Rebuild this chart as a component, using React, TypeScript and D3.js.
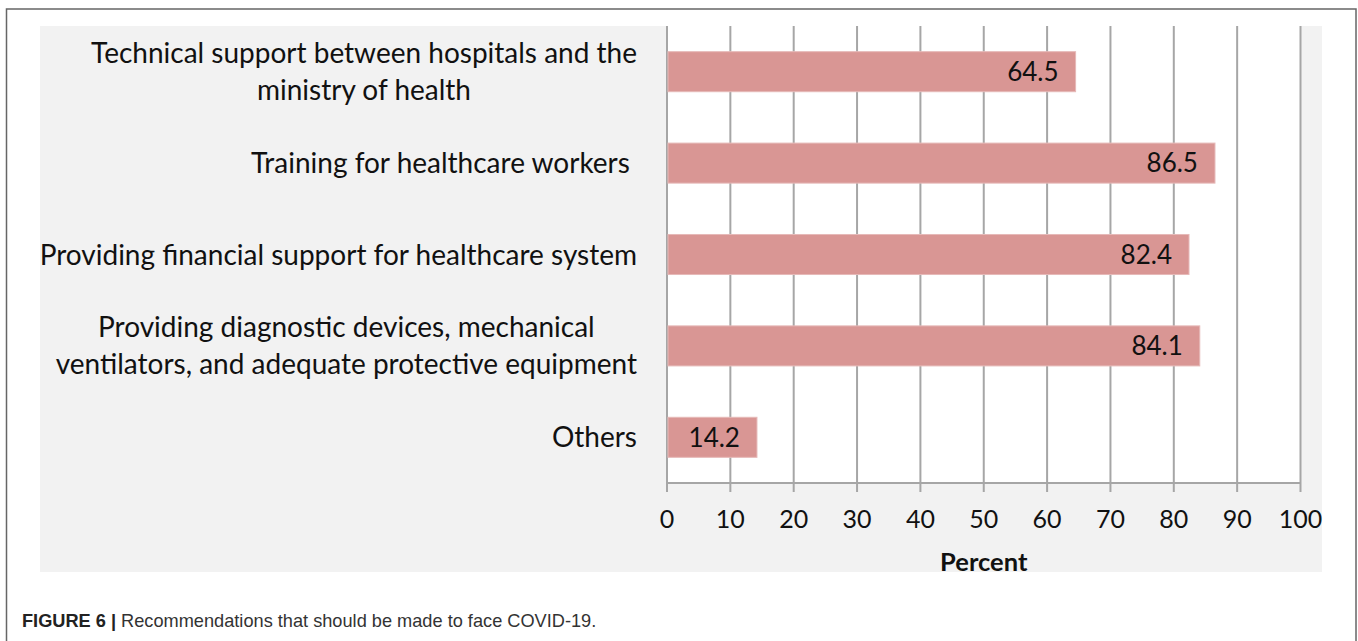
import React, { useEffect, useRef } from "react";
import * as d3 from "d3";

const categories = [
  "Technical support between hospitals and the\nministry of health",
  "Training for healthcare workers ",
  "Providing financial support for healthcare system",
  "Providing diagnostic devices, mechanical\nventilators, and adequate protective equipment",
  "Others",
];
const values = [64.5, 86.5, 82.4, 84.1, 14.2];
const xTicks = [0, 10, 20, 30, 40, 50, 60, 70, 80, 90, 100];
const xAxisTitle = "Percent";
const captionBold = "FIGURE 6 |";
const captionText = " Recommendations that should be made to face COVID-19.";

const W = 1358;
const H = 641;
const FONT = "Lato, 'Open Sans', sans-serif";

export default function App() {
  const ref = useRef<SVGSVGElement | null>(null);

  useEffect(() => {
    const svg = d3.select(ref.current);
    svg.selectAll("*").remove();

    // outer frame
    svg.append("rect")
      .attr("x", 6.5).attr("y", 9).attr("width", 1349.5).attr("height", 700)
      .attr("fill", "#ffffff").attr("stroke", "#666666").attr("stroke-width", 1.5);

    // gray chart panel
    svg.append("rect")
      .attr("x", 40).attr("y", 26).attr("width", 1282).attr("height", 546)
      .attr("fill", "#f2f2f2");

    const x = d3.scaleLinear().domain([0, 100]).range([667, 1300.5]);
    const y = d3.scaleBand<string>().domain(categories).range([26, 483])
      .paddingInner(0.562).paddingOuter(0.281);

    // plot area
    svg.append("rect")
      .attr("x", x(0)).attr("y", 26).attr("width", x(100) - x(0)).attr("height", 483 - 26)
      .attr("fill", "#ffffff");

    // gridlines
    svg.append("g").selectAll("line").data(xTicks).join("line")
      .attr("x1", d => x(d)).attr("x2", d => x(d))
      .attr("y1", 26).attr("y2", 492)
      .attr("stroke", "#a6a6a6").attr("stroke-width", 2);

    // axis line
    svg.append("line")
      .attr("x1", x(0)).attr("x2", x(100)).attr("y1", 483).attr("y2", 483)
      .attr("stroke", "#a6a6a6").attr("stroke-width", 2);

    // bars
    svg.append("g").selectAll("rect").data(values).join("rect")
      .attr("x", x(0) + 1)
      .attr("y", (d, i) => y(categories[i])!)
      .attr("width", d => x(d) - x(0) - 1)
      .attr("height", y.bandwidth())
      .attr("fill", "#d99694")
      .attr("stroke", "#e6b9b8").attr("stroke-width", 1);

    // value labels
    svg.append("g").selectAll("text").data(values).join("text")
      .attr("x", d => x(d) - 17)
      .attr("y", (d, i) => y(categories[i])! + y.bandwidth() / 2)
      .attr("dy", "0.36em")
      .attr("text-anchor", "end")
      .attr("font-family", FONT).attr("font-size", 26).attr("fill", "#111")
      .text(d => d.toFixed(1));

    // tick labels
    svg.append("g").selectAll("text").data(xTicks).join("text")
      .attr("x", d => x(d)).attr("y", 519).attr("dy", "0.36em")
      .attr("text-anchor", "middle")
      .attr("font-family", FONT).attr("font-size", 25).attr("fill", "#111")
      .text(d => String(d));

    // axis title
    svg.append("text")
      .attr("x", (x(0) + x(100)) / 2).attr("y", 562).attr("dy", "0.36em")
      .attr("text-anchor", "middle")
      .attr("font-family", FONT).attr("font-size", 25.5).attr("font-weight", "bold").attr("fill", "#111")
      .text(xAxisTitle);

    // category labels
    const rightEdge = 637;
    const lineH = 37;
    const cg = svg.append("g");
    categories.forEach((c) => {
      const lines = c.split("\n");
      const cy = y(c)! + y.bandwidth() / 2;
      const texts = lines.map((ln, j) =>
        cg.append("text")
          .attr("y", cy + (j - (lines.length - 1) / 2) * lineH)
          .attr("dy", "0.36em")
          .attr("text-anchor", "middle")
          .attr("font-family", FONT).attr("font-size", 28).attr("fill", "#111")
          .style("white-space", "pre")
          .text(ln)
      );
      const maxW = d3.max(texts, t => (t.node() as SVGTextElement).getComputedTextLength()) || 0;
      texts.forEach(t => t.attr("x", rightEdge - maxW / 2));
    });

    // caption
    const cap = svg.append("text")
      .attr("x", 22).attr("y", 627)
      .attr("font-family", "'Liberation Sans', Arial, sans-serif")
      .attr("font-size", 18.2).attr("fill", "#333")
      .style("white-space", "pre");
    cap.append("tspan").attr("font-weight", "bold").attr("fill", "#222").text(captionBold);
    cap.append("tspan").text(captionText);
  }, []);

  return (
    <svg
      ref={ref}
      width={W}
      height={H}
      style={{ position: "absolute", left: 0, top: 0, display: "block" }}
    />
  );
}
